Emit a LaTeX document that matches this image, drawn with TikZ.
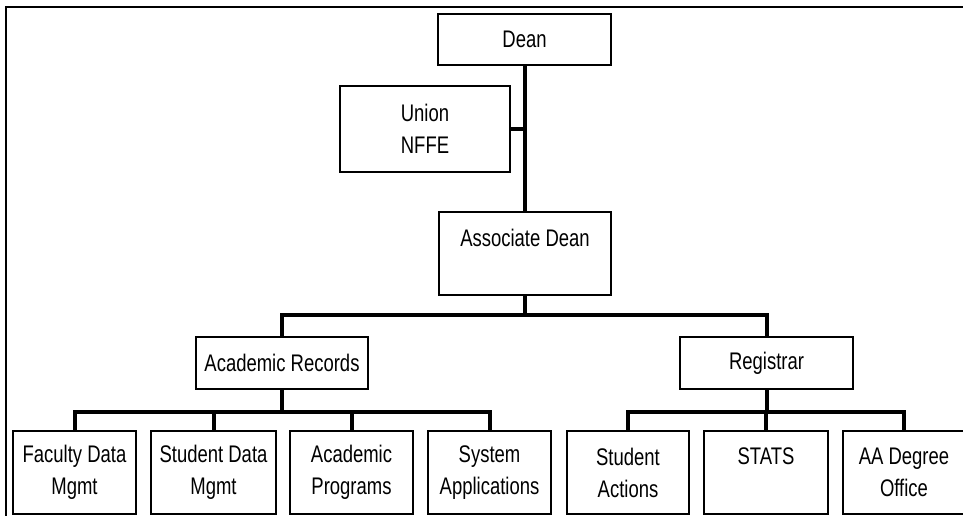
\documentclass[tikz,border=0pt]{standalone}
\usepackage{fontspec}
\setmainfont{Liberation Sans}[FakeStretch=0.77]
\begin{document}
\begin{tikzpicture}[x=1pt,y=-1pt,
  box/.style={draw=black,line width=2pt,rectangle,inner sep=0pt,align=center,
    font=\fontsize{24}{32}\selectfont},
  conn/.style={draw=black,line width=4pt},
  frame/.style={draw=black,line width=2pt}]
\useasboundingbox (0,0) rectangle (963,516);
\clip (0,0) rectangle (963,516);
\fill[white] (0,0) rectangle (963,516);
% outer frame (only left and top edges visible)
\coordinate (fb) at (6,516);
\coordinate (ftl) at (6,7);
\coordinate (ftr) at (963,7);
\draw[frame] (fb) -- (ftl) -- (ftr);
% boxes
\node[box,minimum width=173pt,minimum height=51pt] (dean) at (524.5,39.5) {Dean};
\node[box,minimum width=170pt,minimum height=86pt] (union) at (425,129) {Union\\NFFE};
\node[box,minimum width=172pt,minimum height=83pt] (assoc) at (525,253.5) {Associate Dean\\\mbox{}};
\node[box,minimum width=172pt,minimum height=52pt] (acad) at (282,363) {Academic Records};
\node[box,minimum width=173pt,minimum height=52pt] (reg) at (766.5,363) {Registrar};
\node[box,minimum width=123pt,minimum height=83pt] (fac) at (74.5,472.5) {Faculty Data\\Mgmt};
\node[box,minimum width=125pt,minimum height=83pt] (stud) at (213.5,472.5) {Student Data\\Mgmt};
\node[box,minimum width=123pt,minimum height=83pt] (prog) at (351.5,472.5) {Academic\\Programs};
\node[box,minimum width=123pt,minimum height=83pt] (sys) at (489.5,472.5) {System\\Applications};
\node[box,minimum width=122pt,minimum height=83pt] (act) at (628,472.5) {Student\\Actions};
\node[box,minimum width=124pt,minimum height=83pt] (stats) at (766,472.5) {STATS\\\mbox{}};
\node[box,minimum width=122pt,minimum height=83pt] (aa) at (904,472.5) {AA Degree\\Office};
% bus levels
\coordinate (b1) at (0,315);
\coordinate (b2) at (0,412);
% connectors
\draw[conn] (dean.south) -- (dean.south |- assoc.north);
\draw[conn] (union.east) -- (union.east -| dean.south);
\draw[conn] (assoc.south) -- (assoc.south |- b1);
\draw[conn] (acad.north) -- (acad.north |- b1) -- (reg.north |- b1) -- (reg.north);
\draw[conn] (acad.south) -- (acad.south |- b2);
\draw[conn] (fac.north) -- (fac.north |- b2) -- (sys.north |- b2) -- (sys.north);
\draw[conn] (stud.north) -- (stud.north |- b2);
\draw[conn] (prog.north) -- (prog.north |- b2);
\draw[conn] (reg.south) -- (reg.south |- b2);
\draw[conn] (act.north) -- (act.north |- b2) -- (aa.north |- b2) -- (aa.north);
\draw[conn] (stats.north) -- (stats.north |- b2);
\end{tikzpicture}
\end{document}
